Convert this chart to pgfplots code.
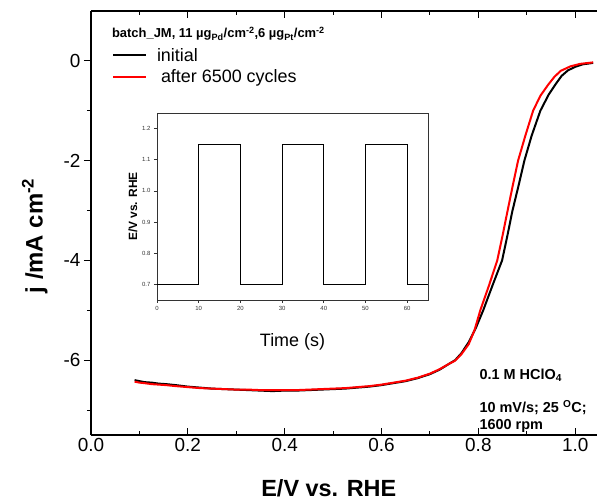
\documentclass[border=0pt]{standalone}
\usepackage{pgfplots}
\pgfplotsset{compat=1.18}
\usepackage{fontspec}
\setmainfont{Liberation Sans}
\begin{document}
\begin{tikzpicture}
\path[use as bounding box] (-91bp,-67bp) rectangle (507bp,435bp);
\begin{axis}[
  at={(0,0)}, anchor=south west, scale only axis,
  width=506bp, height=424bp,
  xmin=0, xmax=1.045, ymin=-7.5, ymax=1,
  axis y line*=left,
  axis line style={line width=1.1bp},
  /pgf/number format/assume math mode=true,
  xtick={0,0.2,0.4,0.6,0.8,1.0},
  minor xtick={0.1,0.3,0.5,0.7,0.9},
  ytick={-6,-4,-2,0},
  minor ytick={-7,-5,-3,-1},
  xtick align=inside, ytick align=outside,
  major tick length=7bp, minor tick length=4bp,
  every tick/.style={line width=1bp, black},
  xticklabel style={/pgf/number format/.cd, fixed, fixed zerofill, precision=1},
  tick label style={font=\fontsize{19}{22}\selectfont},
  xlabel={\bfseries E/V vs. RHE},
  ylabel={\bfseries j /mA cm\textsuperscript{-2}},
  xlabel style={font=\fontsize{23.5}{27}\selectfont, at={(axis description cs:0.47,0)}, anchor=base, yshift=-61bp},
  ylabel style={font=\fontsize{24}{28}\selectfont, at={(axis description cs:-0.111,0.47)}, anchor=center},
  legend style={at={(axis cs:0.043,0.30)}, anchor=north west, draw=none, fill=none,
    font=\fontsize{18}{20}\selectfont, inner sep=0pt, row sep=3bp,
    /tikz/every odd column/.append style={column sep=8bp}},
  legend cell align=left,
  legend image code/.code={\draw[#1] (0bp,0bp) -- (33bp,0bp);},
]
\addplot[black, line width=2bp] coordinates {
(0.090,-6.40) (0.100,-6.42) (0.110,-6.44) (0.125,-6.45) (0.140,-6.47) (0.155,-6.48)
(0.175,-6.50) (0.200,-6.53) (0.225,-6.55) (0.250,-6.57) (0.275,-6.58) (0.300,-6.59)
(0.325,-6.60) (0.350,-6.61) (0.375,-6.62) (0.400,-6.61) (0.425,-6.61) (0.450,-6.60)
(0.475,-6.59) (0.500,-6.58) (0.525,-6.57) (0.550,-6.55) (0.575,-6.53) (0.600,-6.50)
(0.625,-6.46) (0.650,-6.42) (0.675,-6.36) (0.700,-6.28) (0.720,-6.19) (0.740,-6.07)
(0.752,-6.00) (0.765,-5.86) (0.780,-5.64) (0.795,-5.35) (0.810,-5.00) (0.830,-4.48)
(0.849,-4.00) (0.860,-3.50) (0.870,-3.02) (0.883,-2.50) (0.895,-2.00) (0.910,-1.50)
(0.928,-1.00) (0.945,-0.68) (0.960,-0.46) (0.972,-0.30) (0.985,-0.19) (1.000,-0.12)
(1.015,-0.07) (1.037,-0.04)
};
\addlegendentry{initial}
\addplot[red, line width=2bp] coordinates {
(0.090,-6.43) (0.100,-6.45) (0.110,-6.46) (0.125,-6.48) (0.140,-6.49) (0.155,-6.50)
(0.175,-6.52) (0.200,-6.54) (0.225,-6.56) (0.250,-6.57) (0.275,-6.58) (0.300,-6.59)
(0.325,-6.59) (0.350,-6.60) (0.375,-6.60) (0.400,-6.60) (0.425,-6.60) (0.450,-6.59)
(0.475,-6.58) (0.500,-6.57) (0.525,-6.56) (0.550,-6.54) (0.575,-6.52) (0.600,-6.49)
(0.625,-6.45) (0.650,-6.41) (0.675,-6.35) (0.700,-6.27) (0.720,-6.18) (0.740,-6.07)
(0.752,-6.01) (0.765,-5.88) (0.780,-5.68) (0.792,-5.40) (0.804,-5.00) (0.822,-4.50)
(0.839,-4.00) (0.850,-3.50) (0.860,-3.02) (0.871,-2.50) (0.882,-2.00) (0.897,-1.50)
(0.913,-1.00) (0.928,-0.70) (0.944,-0.48) (0.957,-0.32) (0.970,-0.20) (0.990,-0.11)
(1.010,-0.06) (1.037,-0.03)
};
\addlegendentry{\hspace{4bp}after 6500 cycles}
\node[anchor=base west, font=\bfseries\fontsize{13}{15}\selectfont, inner sep=0pt]
  at (axis cs:0.043,0.46) {batch\_JM, 11 µg\textsubscript{Pd}/cm\textsuperscript{-2},6 µg\textsubscript{Pt}/cm\textsuperscript{-2}};
\node[anchor=base west, font=\bfseries\fontsize{14.5}{16}\selectfont, inner sep=0pt]
  at (axis cs:0.802,-6.39) {0.1 M HClO\textsubscript{4}};
\node[anchor=base west, font=\bfseries\fontsize{14.5}{16}\selectfont, inner sep=0pt]
  at (axis cs:0.802,-7.05) {10 mV/s; 25 \textsuperscript{O}C;};
\node[anchor=base west, font=\bfseries\fontsize{14.5}{16}\selectfont, inner sep=0pt]
  at (axis cs:0.802,-7.39) {1600 rpm};
\end{axis}
\begin{axis}[
  at={(66bp,135bp)}, anchor=south west, scale only axis,
  width=271bp, height=187bp,
  xmin=0, xmax=65, ymin=0.65, ymax=1.25,
  axis background/.style={fill=white},
  axis line style={line width=0.6bp, black!80},
  /pgf/number format/assume math mode=true,
  xtick={0,10,20,30,40,50,60},
  ytick={0.7,0.8,0.9,1.0,1.1,1.2},
  tick pos=left, tick align=outside,
  major tick length=3bp,
  every tick/.style={line width=0.6bp, black!80},
  yticklabel style={/pgf/number format/.cd, fixed, fixed zerofill, precision=1},
  tick label style={font=\fontsize{6}{7}\selectfont, text=black!80},
  xlabel={Time (s)},
  ylabel={\bfseries E/V vs. RHE},
  xlabel style={font=\fontsize{18}{20}\selectfont, at={(axis description cs:0.5,0)}, anchor=north, yshift=-30bp},
  ylabel style={font=\fontsize{12}{14}\selectfont, at={(axis description cs:-0.0886,0.5)}, anchor=center},
]
\addplot[black, line width=0.8bp] coordinates {
(0,0.7) (10,0.7) (10,1.15) (20,1.15) (20,0.7) (30,0.7) (30,1.15) (40,1.15) (40,0.7)
(50,0.7) (50,1.15) (60,1.15) (60,0.7) (65,0.7)
};
\end{axis}
\end{tikzpicture}
\end{document}
